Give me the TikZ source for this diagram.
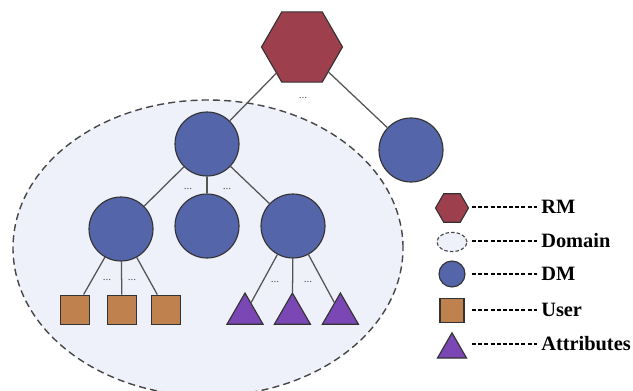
\documentclass[tikz,border=0pt]{standalone}
\usepackage{fontspec}
\setmainfont{Liberation Serif}
\usepackage{tikz}
\usetikzlibrary{shapes.geometric, arrows.meta, positioning, calc}
\definecolor{RMRed}{HTML}{9E3F4E}
\definecolor{DMBlue}{HTML}{5565A9}
\definecolor{UserBrown}{HTML}{BF824F}
\definecolor{AttrPurple}{HTML}{7A47B4}
\definecolor{DomainFill}{HTML}{EEF0FA}
\definecolor{EdgeGray}{HTML}{333333}
\definecolor{LinkGray}{HTML}{555555}
\tikzset{
  % Node styles
  rmnode/.style={regular polygon, regular polygon sides=6, draw=EdgeGray, fill=RMRed, line width=0.8pt, inner sep=0pt, minimum size=2.025cm},
  dmnode/.style={circle, draw=EdgeGray, fill=DMBlue, line width=0.8pt, inner sep=0pt, minimum size=1.6cm},
  usernode/.style={rectangle, draw=EdgeGray, fill=UserBrown, line width=0.8pt, inner sep=0pt, minimum size=0.725cm},
  attrnode/.style={regular polygon, regular polygon sides=3, draw=EdgeGray, fill=AttrPurple, line width=0.8pt, inner sep=0pt, minimum size=1.04cm},
  domainshape/.style={ellipse, draw=EdgeGray!90, fill=DomainFill, line width=1pt, dash pattern=on 5pt off 3pt, inner sep=0pt},
  dots/.style={font=\footnotesize, text=LinkGray, inner sep=0pt},
  keylabel/.style={anchor=west, inner sep=0pt, font=\fontsize{14.5}{16}\selectfont\bfseries},
  % Line styles
  link/.style={draw=LinkGray, line width=0.9pt},
  legendline/.style={black, line width=1.2pt, dash pattern=on 2.8pt off 1.6pt, shorten >=0.1cm}
}

\begin{document}
\begin{tikzpicture}
  \useasboundingbox (0,0) rectangle (15.825,9.75);

  % Domain
  \node[domainshape, minimum width=9.75cm, minimum height=7.4cm] (domain) at (5.2,3.55) {};

  % Tree
  \node[rmnode] (rm) at (7.55,8.575) {};
  \node[dmnode] (dmtop) at (5.175,6.15) {};
  \node[dmnode] (dmout) at (10.275,6.0) {};
  \node[dmnode] (dmleft) at (3.025,4.025) {};
  \node[dmnode] (dmmid) at (5.175,4.1) {};
  \node[dmnode] (dmright) at (7.325,4.1) {};

  \node[usernode] (user1) at (1.875,2.01) {};
  \node[usernode] (user2) at (3.05,2.01) {};
  \node[usernode] (user3) at (4.14,2.01) {};

  \node[attrnode] (attr1) at (6.125,1.905) {};
  \node[attrnode] (attr2) at (7.31,1.905) {};
  \node[attrnode] (attr3) at (8.51,1.905) {};

  % Links
  \draw[link] (rm) -- (dmtop);
  \draw[link] (rm) -- (dmout);
  \draw[link] (dmtop) -- (dmleft);
  \draw[link] (dmtop) -- (dmmid);
  \draw[link] (dmtop) -- (dmright);
  \draw[link] (dmleft) -- (user1);
  \draw[link] (dmleft) -- (user2);
  \draw[link] (dmleft) -- (user3);
  \draw[link] (dmright) -- (attr1);
  \draw[link] (dmright) -- (attr2);
  \draw[link] (dmright) -- (attr3);

  % Ellipses
  \node[dots] (dotsrm) at (7.575,7.3) {...};
  \node[dots] (dotsdm1) at (4.7,5.02) {...};
  \node[dots] (dotsdm2) at (5.675,5.02) {...};
  \node[dots] (dotsu1) at (2.675,2.745) {...};
  \node[dots] (dotsu2) at (3.3,2.745) {...};
  \node[dots] (dotsa1) at (6.875,2.695) {...};
  \node[dots] (dotsa2) at (7.7,2.695) {...};

  % Legend
  \coordinate (dashstart) at (11.8,0);
  \node[rmnode, minimum size=0.825cm] (keyrm) at (11.3,4.55) {};
  \node[domainshape, line width=0.8pt, dash pattern=on 2.5pt off 1.5pt, minimum width=0.75cm, minimum height=0.48cm] (keydomain) at (11.3,3.7) {};
  \node[dmnode, minimum size=0.65cm] (keydm) at (11.3,2.9) {};
  \node[usernode, minimum size=0.6cm] (keyuser) at (11.3,1.99) {};
  \node[attrnode, minimum size=0.84cm] (keyattr) at (11.3,1.01) {};

  \node[keylabel] (labrm) at (13.525,4.575) {RM};
  \node[keylabel] (labdomain) at (13.525,3.725) {Domain};
  \node[keylabel] (labdm) at (13.525,2.9) {DM};
  \node[keylabel] (labuser) at (13.525,2.0) {User};
  \node[keylabel] (labattr) at (13.525,1.15) {Attributes};

  \draw[legendline] (dashstart |- labrm.west) -- (labrm.west);
  \draw[legendline] (dashstart |- labdomain.west) -- (labdomain.west);
  \draw[legendline] (dashstart |- labdm.west) -- (labdm.west);
  \draw[legendline] (dashstart |- labuser.west) -- (labuser.west);
  \draw[legendline] (dashstart |- labattr.west) -- (labattr.west);
\end{tikzpicture}
\end{document}
